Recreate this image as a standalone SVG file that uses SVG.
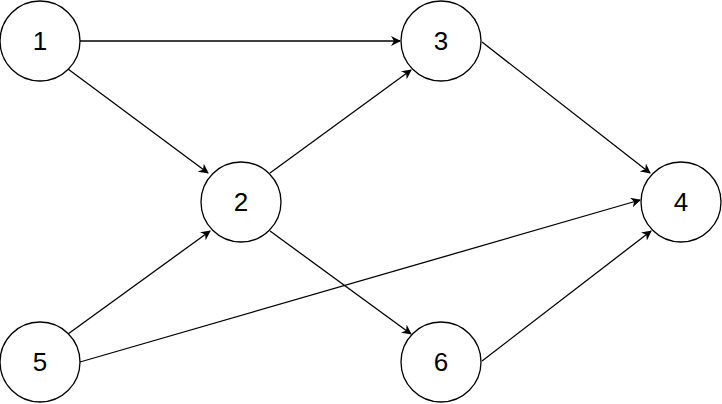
<svg xmlns="http://www.w3.org/2000/svg" width="722" height="404" viewBox="0 0 722 404">
<style>
.n{fill:#fff;stroke:#000;stroke-width:1.3}
.t{font-family:"Liberation Sans",Arial,sans-serif;font-size:26px;text-anchor:middle;dominant-baseline:central}
.e{stroke:#000;stroke-width:1.3;fill:none;marker-end:url(#a)}
</style>
<defs><marker id="a" viewBox="0 0 10 10" refX="9" refY="5" markerWidth="10" markerHeight="10" markerUnits="userSpaceOnUse" orient="auto"><path d="M0,0 L10,5 L0,10 L3,5 Z" fill="#000"/></marker></defs>
<rect width="722" height="404" fill="#fff"/>
<g id="edges">
<line class="e" x1="80" y1="41" x2="400" y2="41"/>
<line class="e" x1="68" y1="69" x2="208" y2="173"/>
<line class="e" x1="270" y1="173" x2="411" y2="70"/>
<line class="e" x1="482" y1="42" x2="650" y2="173"/>
<line class="e" x1="68" y1="334" x2="210" y2="231"/>
<line class="e" x1="80" y1="362" x2="640" y2="200"/>
<line class="e" x1="270" y1="231" x2="411" y2="334"/>
<line class="e" x1="482" y1="361" x2="651" y2="231"/>
</g>
<g id="n1"><circle class="n" cx="40" cy="41" r="40"/><text class="t" x="40" y="41">1</text></g>
<g id="n2"><circle class="n" cx="241" cy="202" r="40"/><text class="t" x="241" y="202">2</text></g>
<g id="n3"><circle class="n" cx="441" cy="41" r="40"/><text class="t" x="441" y="41">3</text></g>
<g id="n4"><circle class="n" cx="681" cy="202" r="40"/><text class="t" x="681" y="202">4</text></g>
<g id="n5"><circle class="n" cx="40" cy="362" r="40"/><text class="t" x="40" y="362">5</text></g>
<g id="n6"><circle class="n" cx="441" cy="362" r="40"/><text class="t" x="441" y="362">6</text></g>
</svg>
